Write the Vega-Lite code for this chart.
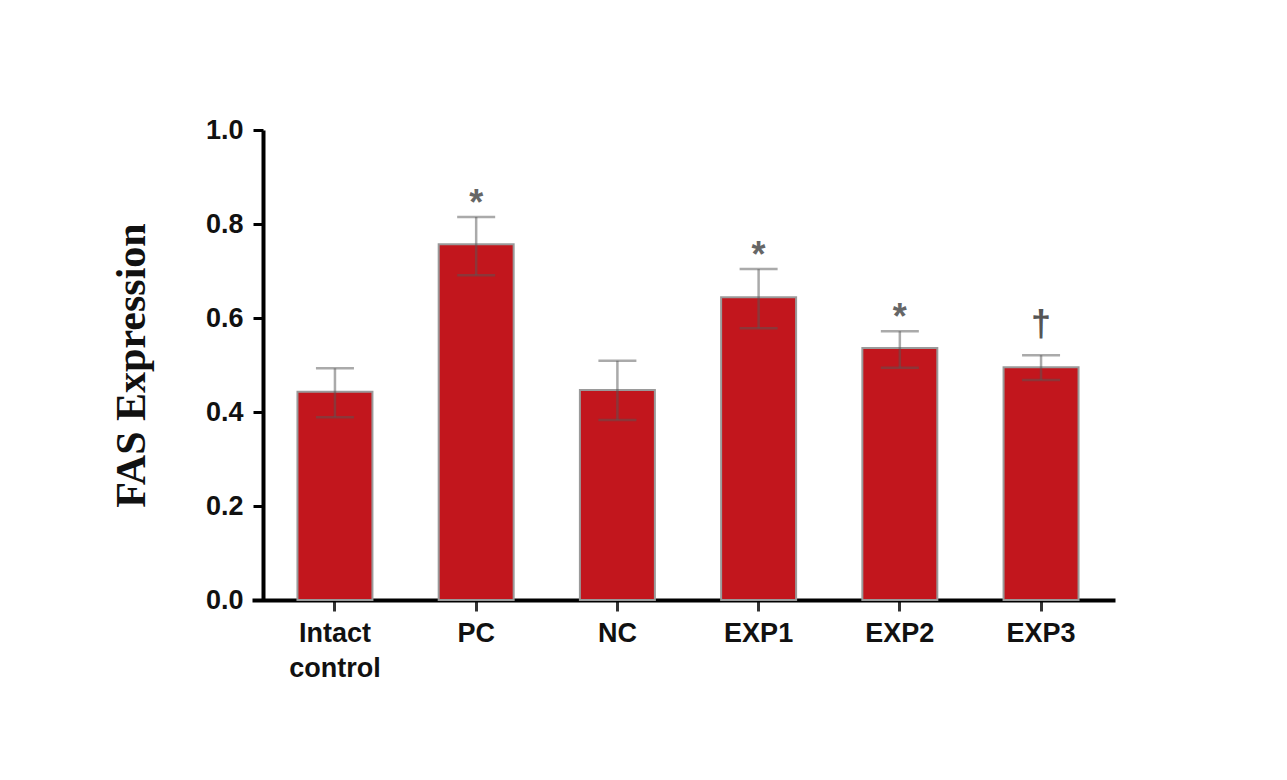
{
  "$schema": "https://vega.github.io/schema/vega-lite/v6.json",
  "width": 863,
  "height": 470,
  "autosize": {"type": "none"},
  "padding": {"left": 252, "top": 130, "right": 172, "bottom": 180},
  "background": "white",
  "config": {"view": {"stroke": null}},
  "data": {
    "values": [
      {"group": "Intact control", "mean": 0.443, "low": 0.389, "high": 0.493, "sig": ""},
      {"group": "PC", "mean": 0.757, "low": 0.691, "high": 0.815, "sig": "*"},
      {"group": "NC", "mean": 0.447, "low": 0.383, "high": 0.509, "sig": ""},
      {"group": "EXP1", "mean": 0.644, "low": 0.578, "high": 0.704, "sig": "*"},
      {"group": "EXP2", "mean": 0.536, "low": 0.494, "high": 0.572, "sig": "*"},
      {"group": "EXP3", "mean": 0.495, "low": 0.468, "high": 0.521, "sig": "†"}
    ]
  },
  "encoding": {
    "x": {
      "field": "group",
      "type": "nominal",
      "sort": null,
      "scale": {"paddingInner": 0.469, "paddingOuter": 0.29, "align": 0.555},
      "axis": {
        "title": null,
        "labelAngle": 0,
        "labelFont": "Liberation Sans",
        "labelFontWeight": "bold",
        "labelFontSize": 27,
        "labelColor": "#111",
        "labelPadding": 9,
        "labelBaseline": "top",
        "labelLineHeight": 35,
        "labelExpr": "datum.value == 'Intact control' ? ['Intact', 'control'] : datum.value",
        "domainColor": "#000",
        "domainWidth": 4,
        "tickColor": "#333",
        "tickWidth": 3,
        "tickSize": 11
      }
    }
  },
  "layer": [
    {
      "mark": {"type": "bar", "color": "#C2161D", "stroke": "#9a9a9a", "strokeWidth": 2},
      "encoding": {
        "y": {
          "field": "mean",
          "type": "quantitative",
          "scale": {"domain": [0, 1]},
          "axis": {
            "title": "FAS Expression",
            "titleFont": "Liberation Serif",
            "titleFontWeight": "bold",
            "titleFontSize": 42,
            "titleColor": "#111",
            "titlePadding": 52,
            "values": [0, 0.2, 0.4, 0.6, 0.8, 1.0],
            "format": ".1f",
            "offset": -11,
            "labelFont": "Liberation Sans",
            "labelFontWeight": "bold",
            "labelFontSize": 27,
            "labelColor": "#111",
            "labelPadding": 10,
            "domainColor": "#000",
            "domainWidth": 4,
            "tickColor": "#000",
            "tickWidth": 3,
            "tickSize": 10,
            "grid": false
          }
        }
      }
    },
    {
      "mark": {"type": "rule", "color": "#555", "opacity": 0.5, "strokeWidth": 2.5},
      "encoding": {
        "y": {"field": "low", "type": "quantitative"},
        "y2": {"field": "high"}
      }
    },
    {
      "mark": {"type": "tick", "color": "#555", "opacity": 0.5, "size": 38, "thickness": 2.5},
      "encoding": {"y": {"field": "high", "type": "quantitative"}}
    },
    {
      "mark": {"type": "tick", "color": "#555", "opacity": 0.5, "size": 38, "thickness": 2.5},
      "encoding": {"y": {"field": "low", "type": "quantitative"}}
    },
    {
      "transform": [{"filter": "datum.sig == '*'"}],
      "mark": {"type": "text", "font": "Liberation Sans", "fontWeight": "bold", "fontSize": 36, "color": "#666", "baseline": "alphabetic", "dy": -2},
      "encoding": {
        "y": {"field": "high", "type": "quantitative"},
        "text": {"field": "sig"}
      }
    },
    {
      "transform": [{"filter": "datum.sig == '†'"}],
      "mark": {"type": "text", "font": "Liberation Sans", "fontWeight": "bold", "fontSize": 36, "color": "#555", "baseline": "alphabetic", "dy": -19},
      "encoding": {
        "y": {"field": "high", "type": "quantitative"},
        "text": {"field": "sig"}
      }
    }
  ]
}
